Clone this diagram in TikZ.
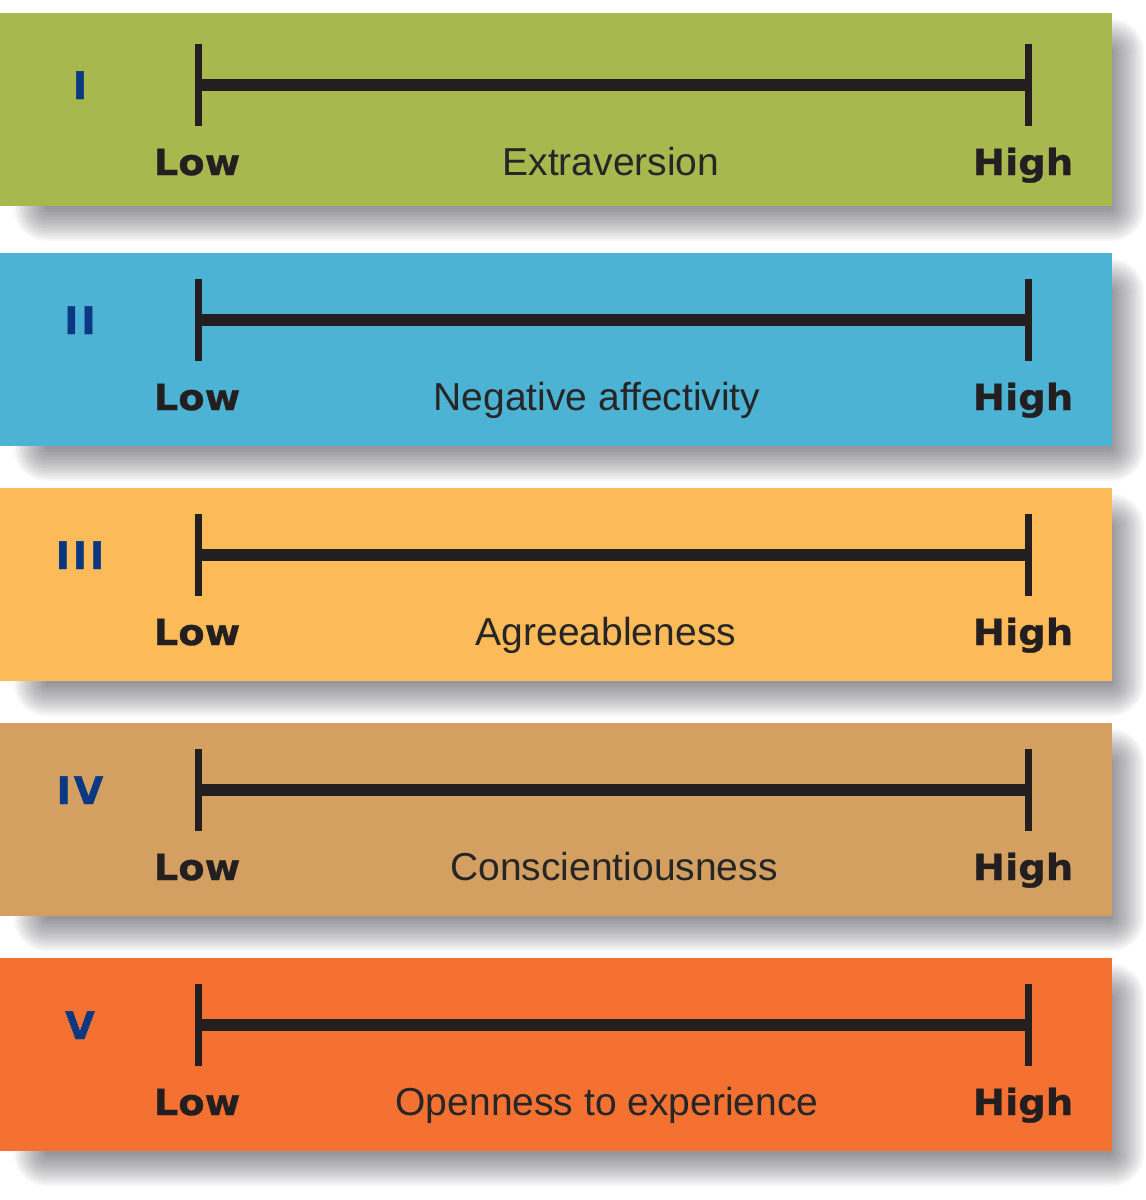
\documentclass[tikz,border=0pt]{standalone}
\usepackage{fontspec}
\setmainfont{Liberation Sans}
\newfontfamily\lhfont{DejaVu Sans Bold}[FakeBold=0.8,FakeStretch=1.07]
\newfontfamily\romfont{DejaVu Sans Bold}[FakeBold=1.2,LetterSpace=8]
\definecolor{cgreen}{HTML}{A7B84F}
\definecolor{cblue}{HTML}{4DB3D4}
\definecolor{cyellow}{HTML}{FDBA58}
\definecolor{ctan}{HTML}{D4A062}
\definecolor{corange}{HTML}{F47132}
\definecolor{cnum}{HTML}{0B3880}
\definecolor{cbar}{HTML}{231F20}
\definecolor{ctext}{HTML}{262626}
\definecolor{cshadow}{HTML}{2A2A38}
\begin{document}
\begin{tikzpicture}[x=1pt,y=-1pt,
  band/.style={draw=none, minimum width=1112pt, minimum height=193pt, inner sep=0pt, anchor=north west},
  shadowlayer/.style={fill=cshadow, fill opacity=0.034},
  numeral/.style={text=cnum, font=\romfont\fontsize{38}{40}\selectfont, anchor=base, inner sep=0pt},
  endlabel/.style={text=cbar, font=\lhfont\fontsize{36}{40}\selectfont, anchor=base, inner sep=0pt},
  trait/.style={text=ctext, font=\fontsize{39}{42}\selectfont, anchor=base, inner sep=0pt},
  barline/.style={draw=cbar, line width=12pt},
  tickline/.style={draw=cbar, line width=7pt}]
\useasboundingbox (0,0) rectangle (1146,1200);
\fill[white] (0,0) rectangle (1146,1200);

\newcommand\onetrait[7]{%
  % #1 name, #2 top, #3 color, #4 numeral, #5 bar y, #6 trait text, #7 trait x
  \foreach \e in {16,14,...,-16}{%
    \pgfmathsetmacro\rc{\e+17}%
    \fill[shadowlayer, rounded corners=\rc pt] (30-\e,#2+22-\e) rectangle (1128+\e,#2+212+\e);
  }
  \node[band, fill=#3] (band#1) at (0,#2) {};
  \coordinate (lo#1) at (198,#5);
  \coordinate (hi#1) at (1028,#5);
  \draw[barline] (lo#1) -- (hi#1);
  \draw[tickline] ([yshift=41pt]lo#1) -- ([yshift=-41pt]lo#1);
  \draw[tickline] ([yshift=41pt]hi#1) -- ([yshift=-41pt]hi#1);
  \node[numeral] (num#1) at (80,#5+14) {#4};
  \node[endlabel] (low#1) at (197,#5+90) {Low};
  \node[endlabel] (high#1) at (1023,#5+90) {High};
  \node[trait] (trait#1) at (#7,#5+90) {#6};
}

\onetrait{1}{13}{cgreen}{I}{85}{Extraversion}{611}
\onetrait{2}{253}{cblue}{II}{320}{Negative affectivity}{597}
\onetrait{3}{488}{cyellow}{III}{555}{Agreeableness}{606}
\onetrait{4}{723}{ctan}{IV}{790}{Conscientiousness}{614}
\onetrait{5}{958}{corange}{V}{1025}{Openness to experience}{607}
\end{tikzpicture}
\end{document}
